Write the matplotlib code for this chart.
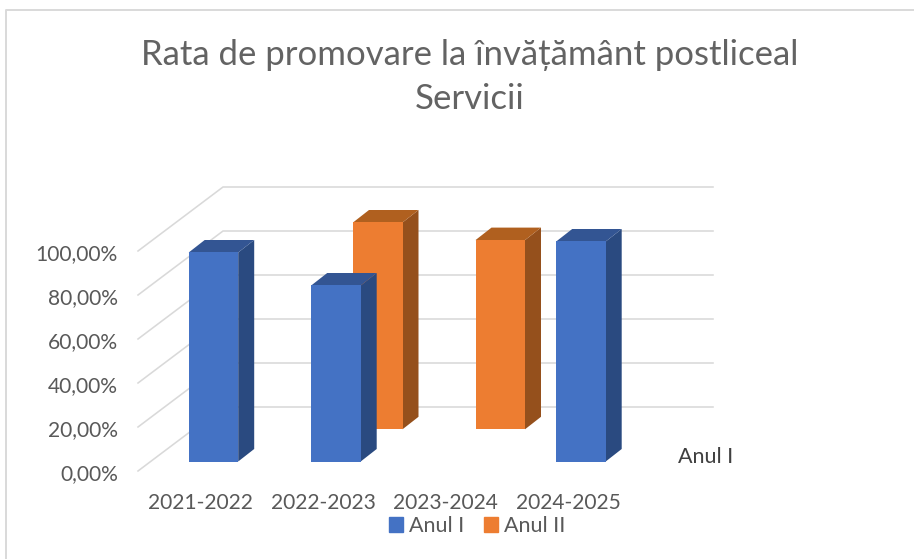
import numpy as np
import matplotlib
matplotlib.use("Agg")
import matplotlib.pyplot as plt
from matplotlib.patches import Patch
from matplotlib.lines import Line2D
from matplotlib.transforms import ScaledTranslation

categories = ["2021-2022", "2022-2023", "2023-2024", "2024-2025"]
anul_1 = [95.0, 80.0, np.nan, 100.0]
anul_2 = [np.nan, 94.0, 86.0, np.nan]
y_ticks = [0, 20, 40, 60, 80, 100]
y_labels = ["0,00%", "20,00%", "40,00%", "60,00%", "80,00%", "100,00%"]

W, H = 914, 559
plt.rcParams["font.family"] = ["Lato", "DejaVu Sans"]
fig = plt.figure(figsize=(W / 100, H / 100), dpi=100)
L, R, B, T = 138, 628, 471, 251
ax = fig.add_axes([L / W, 1 - B / H, (R - L) / W, (B - T) / H])
ax.set_xlim(-0.5, 3.5)
ax.set_ylim(0, 100)
ax.patch.set_visible(False)
for s in ax.spines.values():
    s.set_visible(False)

DX, DY = 85 / 122.5, 64 / 2.2          # full floor depth, in data units
GRID = "#D9D9D9"
for v in y_ticks:
    ax.plot([-0.5, -0.5 + DX, 3.5 + DX], [v, v + DY, v + DY], color=GRID, lw=1.15,
            clip_on=False, zorder=1, solid_joinstyle="miter")

BAR_W = 49.5 / 122.5
BDX, BDY = 16 / 122.5, 12.5 / 2.2


def bars(values, row_dx, row_dy, front, side, top, z):
    for i, v in enumerate(values):
        if np.isnan(v):
            continue
        x0 = i + row_dx - BAR_W / 2
        x1 = x0 + BAR_W
        ax.bar(x0, v, BAR_W, bottom=row_dy, align="edge", color=front, clip_on=False, zorder=z + 0.2)
        ax.fill([x1, x1 + BDX, x1 + BDX, x1],
                [row_dy, row_dy + BDY, row_dy + v + BDY, row_dy + v],
                color=side, lw=0, clip_on=False, zorder=z + 0.1)
        ax.fill([x0, x0 + BDX, x1 + BDX, x1],
                [row_dy + v, row_dy + v + BDY, row_dy + v + BDY, row_dy + v],
                color=top, lw=0, clip_on=False, zorder=z + 0.1)


bars(anul_2, 56 / 122.5, 41.7 / 2.2, "#ED7D31", "#95501C", "#B0601F", 2)
bars(anul_1, 14.2 / 122.5, 9.5 / 2.2, "#4472C4", "#2A4A80", "#335593", 3)

ax.set_xticks(range(len(categories)), categories)
ax.set_yticks(y_ticks, y_labels)
ax.tick_params(axis="both", length=0, labelsize=15.1, labelcolor="#595959")
ax.tick_params(axis="x", pad=16)
ax.tick_params(axis="y", pad=14.5)
yshift = ScaledTranslation(0, -1.5 / 100, fig.dpi_scale_trans)
for lab in ax.get_yticklabels():
    lab.set_transform(lab.get_transform() + yshift)
xshift = ScaledTranslation(1.5 / 100, 0, fig.dpi_scale_trans)
for lab in ax.get_xticklabels():
    lab.set_transform(lab.get_transform() + xshift)

fig.suptitle("Rata de promovare la învățământ postliceal\nServicii", x=470 / W, y=1 - 39 / H,
             fontsize=25, color="#636363", va="top", linespacing=1.47)

fig.text(678 / W, 1 - 457 / H, "Anul I", fontsize=15.5, color="#404040", va="center", ha="left")

handles = [Patch(color="#4472C4", label="Anul I"), Patch(color="#ED7D31", label="Anul II")]
fig.legend(handles=handles, loc="center", bbox_to_anchor=(477 / W, 1 - 526 / H), ncol=2, frameon=False,
           fontsize=15.5, labelcolor="#595959", handlelength=0.65, handleheight=0.65,
           handletextpad=0.28, columnspacing=0.93, borderpad=0, borderaxespad=0)

fig.add_artist(Line2D([6 / W, 6 / W, 1], [0, 1 - 10 / H, 1 - 10 / H], color=GRID, lw=1.4,
                      transform=fig.transFigure))
fig.savefig("out.png", dpi=100)
